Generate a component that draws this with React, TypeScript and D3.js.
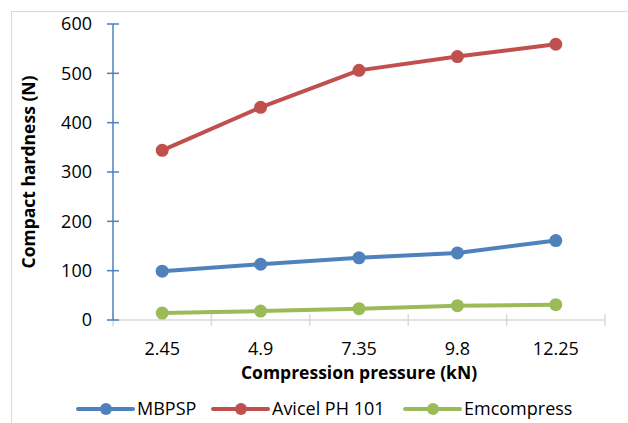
import { useEffect, useRef } from 'react';
import * as d3 from 'd3';

const categories = ['2.45', '4.9', '7.35', '9.8', '12.25'];
const mbpsp = [99, 113, 126, 136, 161];
const avicel = [344, 431, 506, 534, 559];
const emcompress = [14, 18, 23, 29, 31];
const yTicks = [0, 100, 200, 300, 400, 500, 600];

const series = [
  { name: 'MBPSP', values: mbpsp, color: '#4F81BD' },
  { name: 'Avicel PH 101', values: avicel, color: '#C0504D' },
  { name: 'Emcompress', values: emcompress, color: '#9BBB59' },
];

const FONT = '"Open Sans", Lato, sans-serif';

function App() {
  const svgRef = useRef<SVGSVGElement>(null);

  useEffect(() => {
    const svg = d3.select(svgRef.current);
    svg.selectAll('*').remove();

    const left = 113;
    const right = 605;
    const top = 24;
    const bottom = 320;

    // chart frame (only top and left visible in the crop)
    svg
      .append('rect')
      .attr('x', 11.5)
      .attr('y', 11.5)
      .attr('width', 640)
      .attr('height', 440)
      .attr('fill', 'white')
      .attr('stroke', '#D9D9D9')
      .attr('stroke-width', 1);

    const x = d3.scaleBand().domain(categories).range([left, right]);
    const y = d3.scaleLinear().domain([0, 600]).range([bottom, top]);

    // X axis
    const xAxis = svg.append('g').attr('transform', `translate(0,${bottom})`);
    xAxis
      .append('line')
      .attr('x1', left)
      .attr('x2', right)
      .attr('stroke', '#D9D9D9')
      .attr('stroke-width', 1.5);
    const xEdges = categories.map((c) => x(c)!).concat([right]);
    xAxis
      .selectAll('line.tick')
      .data(xEdges)
      .enter()
      .append('line')
      .attr('class', 'tick')
      .attr('x1', (d) => d)
      .attr('x2', (d) => d)
      .attr('y1', -6)
      .attr('y2', 6)
      .attr('stroke', '#D9D9D9')
      .attr('stroke-width', 1.5);
    xAxis
      .selectAll('text')
      .data(categories)
      .enter()
      .append('text')
      .attr('x', (d) => x(d)! + x.bandwidth() / 2)
      .attr('y', 29)
      .attr('dy', '0.35em')
      .attr('text-anchor', 'middle')
      .style('font-family', FONT)
      .style('font-size', '18px')
      .style('fill', '#000')
      .text((d) => d);

    // Y axis
    const yAxis = svg.append('g');
    yAxis
      .append('line')
      .attr('x1', left)
      .attr('x2', left)
      .attr('y1', top)
      .attr('y2', bottom)
      .attr('stroke', '#4F81BD')
      .attr('stroke-width', 1.5);
    yAxis
      .selectAll('line.tick')
      .data(yTicks)
      .enter()
      .append('line')
      .attr('class', 'tick')
      .attr('x1', left - 6)
      .attr('x2', left + 6)
      .attr('y1', (d) => y(d))
      .attr('y2', (d) => y(d))
      .attr('stroke', '#4F81BD')
      .attr('stroke-width', 1.5);
    yAxis
      .selectAll('text')
      .data(yTicks)
      .enter()
      .append('text')
      .attr('x', left - 21)
      .attr('y', (d) => y(d))
      .attr('dy', '0.35em')
      .attr('text-anchor', 'end')
      .style('font-family', FONT)
      .style('font-size', '18px')
      .style('fill', '#000')
      .text((d) => d);

    // axis titles
    svg
      .append('text')
      .attr('x', (left + right) / 2)
      .attr('y', 372.5)
      .attr('dy', '0.35em')
      .attr('text-anchor', 'middle')
      .style('font-family', FONT)
      .style('font-size', '17.5px')
      .style('font-weight', 'bold')
      .text('Compression pressure (kN)');

    svg
      .append('text')
      .attr('transform', `translate(35,${(top + bottom) / 2}) rotate(-90)`)
      .attr('text-anchor', 'middle')
      .style('font-family', FONT)
      .style('font-size', '17.5px')
      .style('font-weight', 'bold')
      .text('Compact hardness (N)');

    // lines and markers
    const line = d3
      .line<number>()
      .x((_, i) => x(categories[i])! + x.bandwidth() / 2)
      .y((d) => y(d));

    series.forEach((s) => {
      svg
        .append('path')
        .datum(s.values)
        .attr('d', line)
        .attr('fill', 'none')
        .attr('stroke', s.color)
        .attr('stroke-width', 4)
        .attr('stroke-linejoin', 'round');
      svg
        .selectAll(null)
        .data(s.values)
        .enter()
        .append('circle')
        .attr('cx', (_, i) => x(categories[i])! + x.bandwidth() / 2)
        .attr('cy', (d) => y(d))
        .attr('r', 6.5)
        .attr('fill', s.color);
    });

    // legend
    const legendX = [78, 213, 405];
    const legend = svg
      .append('g')
      .selectAll('g')
      .data(series)
      .enter()
      .append('g')
      .attr('transform', (_, i) => `translate(${legendX[i]},409)`);
    legend
      .append('line')
      .attr('x1', 0)
      .attr('x2', 55)
      .attr('stroke', (d) => d.color)
      .attr('stroke-width', 4)
      .attr('stroke-linecap', 'round');
    legend
      .append('circle')
      .attr('cx', 28)
      .attr('r', 6)
      .attr('fill', (d) => d.color);
    legend
      .append('text')
      .attr('x', 59)
      .attr('dy', '0.35em')
      .style('font-family', FONT)
      .style('font-size', '18px')
      .style('fill', '#000')
      .text((d) => d.name);
  }, []);

  return (
    <svg
      ref={svgRef}
      width={628}
      height={423}
      style={{ position: 'absolute', left: 0, top: 0, display: 'block' }}
    />
  );
}

export default App;
